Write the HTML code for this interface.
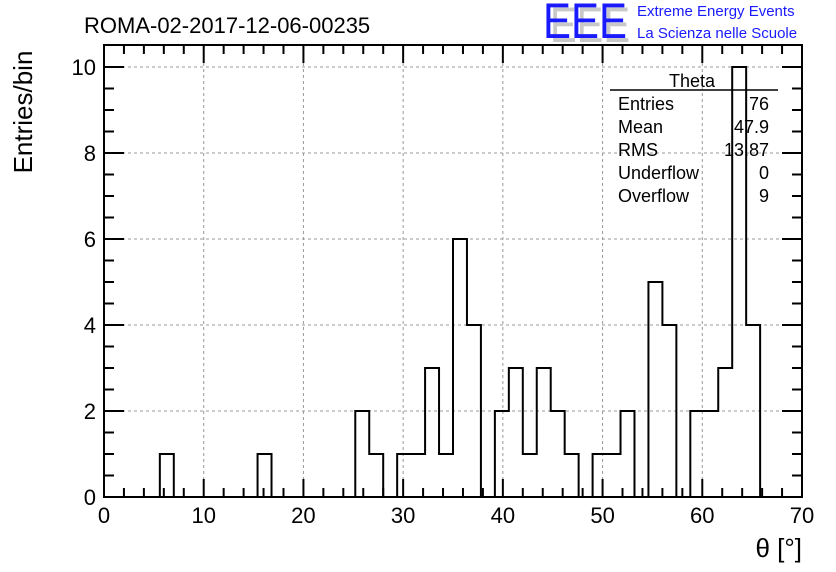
<!DOCTYPE html>
<html><head><meta charset="utf-8"><style>
body{margin:0;background:#fff;}
svg{display:block;font-family:"Liberation Sans",sans-serif;}
</style></head><body>
<svg id="chart" width="836" height="572" viewBox="0 0 836 572">
<g id="grid"></g>
<g id="axes"></g>
<path id="hist" fill="none" stroke="#000" stroke-width="2"/>
<rect x="104" y="45" width="698" height="452" fill="none" stroke="#000" stroke-width="2"/>
<text x="84" y="33" font-size="22">ROMA-02-2017-12-06-00235</text>
<g>
<text x="550" y="42" font-size="50" fill="#c8c8c8" textLength="80" lengthAdjust="spacingAndGlyphs">EEE</text>
<text x="543" y="38" font-size="50" fill="#1a1aff" textLength="84" lengthAdjust="spacingAndGlyphs">EEE</text>
<text x="637" y="16" font-size="15" fill="#1a1aff">Extreme Energy Events</text>
<text x="637" y="38" font-size="15" fill="#1a1aff">La Scienza nelle Scuole</text>
</g>
<text transform="translate(32,112) rotate(-90)" font-size="26" text-anchor="middle">Entries/bin</text>
<text x="802" y="557" font-size="26" text-anchor="end">θ [°]</text>
<g font-size="18">
<text x="692" y="87" text-anchor="middle">Theta</text>
<line x1="610" y1="90" x2="778" y2="90" stroke="#000" stroke-width="1.5"/>
<text x="618" y="110">Entries</text><text x="769" y="110" text-anchor="end">76</text>
<text x="618" y="133">Mean</text><text x="769" y="133" text-anchor="end">47.9</text>
<text x="618" y="156">RMS</text><text x="769" y="156" text-anchor="end">13.87</text>
<text x="618" y="179">Underflow</text><text x="769" y="179" text-anchor="end">0</text>
<text x="618" y="202">Overflow</text><text x="769" y="202" text-anchor="end">9</text>
</g>
</svg>
<script>
const binWidth = 1.4;
const counts = [0,0,0,0,1,0,0,0,0,0,0,1,0,0,0,0,0,0,2,1,0,1,1,3,1,6,4,0,2,3,1,3,2,1,0,1,1,2,0,5,4,0,2,2,3,10,4,0,0,0];
const xTicks = [0,10,20,30,40,50,60,70];
const yTicks = [0,2,4,6,8,10];
const X0=104,X1=802,Y0=497,Y10=67;
const sx = v => X0 + (v/70)*(X1-X0);
const sy = v => Y0 - (v/10)*(Y0-Y10);
const NS="http://www.w3.org/2000/svg";
const grid=document.getElementById('grid'), axes=document.getElementById('axes');
function mk(tag,attrs,parent){const e=document.createElementNS(NS,tag);for(const k in attrs)e.setAttribute(k,attrs[k]);parent.appendChild(e);return e;}
xTicks.forEach(t=>{
  const x=sx(t);
  if(t>0&&t<70){const g=mk('line',{x1:x,y1:45,x2:x,y2:497,stroke:'#999','stroke-dasharray':'3,3','stroke-width':1},grid);
  
  }
  const lb=mk('text',{x:x,y:523,'font-size':22,'text-anchor':'middle'},axes);lb.textContent=t;
  
  
});
for(let v=0;v<=70;v+=2){const x=sx(v);const len=(v%10===0)?18:9;
  mk('line',{x1:x,y1:497,x2:x,y2:497-len,stroke:'#000','stroke-width':2},axes);
  mk('line',{x1:x,y1:45,x2:x,y2:45+len,stroke:'#000','stroke-width':2},axes);}
yTicks.forEach(t=>{
  const y=sy(t);
  if(t>0){const g=mk('line',{x1:104,y1:y,x2:802,y2:y,stroke:'#999','stroke-dasharray':'3,3','stroke-width':1},grid);
  
  }
  const lb=mk('text',{x:96,y:y+8,'font-size':22,'text-anchor':'end'},axes);lb.textContent=t;
  
  
});
for(let v=0;v<=10.01;v+=0.5){const y=sy(v);const len=(Math.abs(v%2)<0.01)?20:10;
  mk('line',{x1:104,y1:y,x2:104+len,y2:y,stroke:'#000','stroke-width':2},axes);
  mk('line',{x1:802,y1:y,x2:802-len,y2:y,stroke:'#000','stroke-width':2},axes);}
let d='M'+sx(0)+','+sy(0);
counts.forEach((c,i)=>{d+=' L'+sx(i*binWidth)+','+sy(c)+' L'+sx((i+1)*binWidth)+','+sy(c);});
d+=' L'+sx(counts.length*binWidth)+','+sy(0);
document.getElementById('hist').setAttribute('d',d);
</script>
</body></html>
